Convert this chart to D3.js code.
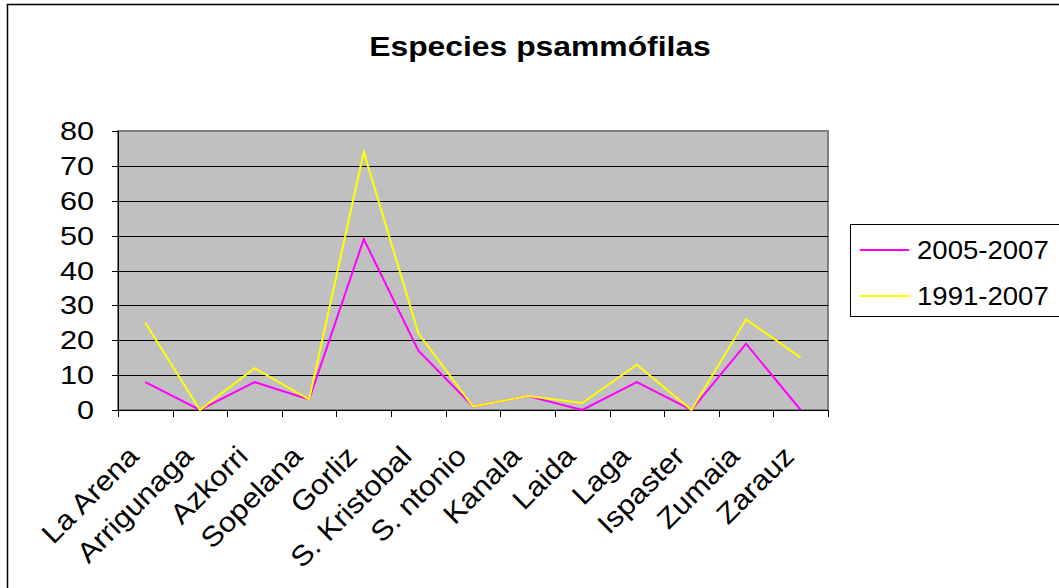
<!DOCTYPE html>
<html>
<head>
<meta charset="utf-8">
<script src="https://cdn.jsdelivr.net/npm/d3@7"></script>
<style>
  body { margin: 0; background: #fff; }
  text { font-family: "Liberation Sans", Arial, sans-serif; fill: #000; }
</style>
</head>
<body>
<div id="chart"></div>
<script>
const sites = ["La Arena", "Arrigunaga", "Azkorri", "Sopelana", "Gorliz", "S. Kristobal",
  "S. ntonio", "Kanala", "Laida", "Laga", "Ispaster", "Zumaia", "Zarauz"];
const recent = [8, 0, 8, 3, 49, 17, 1, 4, 0, 8, 0, 19, 0];       // 2005-2007
const allYears = [25, 0, 12, 3, 74, 22, 1, 4, 2, 13, 0, 26, 15];  // 1991-2007
const seriesNames = ["2005-2007", "1991-2007"];
const seriesColors = ["#FF00FF", "#FFFF00"];
const yTicks = [0, 10, 20, 30, 40, 50, 60, 70, 80];

const width = 1059, height = 588;
const plot = { left: 118, right: 828, top: 131, bottom: 410 };
const stretch = 1.18; // the original text is a bit wider than plain Arial
const fontSize = 26;

const svg = d3.select("#chart").append("svg")
    .attr("width", width)
    .attr("height", height);

// outer frame
svg.append("rect")
    .attr("x", 7.5).attr("y", 4.5)
    .attr("width", width).attr("height", height)
    .attr("fill", "none")
    .attr("stroke", "#000")
    .attr("stroke-width", 1.5);

const x = d3.scaleBand().domain(sites).range([plot.left, plot.right]);
const y = d3.scaleLinear().domain([0, 80]).range([plot.bottom, plot.top]);

function stretchedText(g, px, py, str, sx) {
  return g.append("text")
    .attr("transform", "translate(" + px + "," + py + ") scale(" + (sx || stretch) + ",1)")
    .style("font-size", fontSize + "px")
    .text(str);
}

// title
stretchedText(svg, 540, 56, "Especies psammófilas")
    .attr("text-anchor", "middle")
    .style("font-size", "27px")
    .style("font-weight", "bold");

// plot background
svg.append("rect")
    .attr("x", plot.left).attr("y", plot.top)
    .attr("width", plot.right - plot.left).attr("height", plot.bottom - plot.top)
    .attr("fill", "#C0C0C0")
    .attr("stroke", "#808080")
    .attr("stroke-width", 2);

// grid lines
svg.append("g")
  .selectAll("line")
  .data(yTicks.filter(t => t > 0 && t < 80))
  .enter().append("line")
    .attr("x1", plot.left).attr("x2", plot.right)
    .attr("y1", d => Math.round(y(d)) + 0.5).attr("y2", d => Math.round(y(d)) + 0.5)
    .attr("stroke", "#000");

// y axis
const yAxis = svg.append("g");
yAxis.append("line")
    .attr("x1", plot.left + 0.5).attr("x2", plot.left + 0.5)
    .attr("y1", plot.top).attr("y2", plot.bottom)
    .attr("stroke", "#000");
yAxis.selectAll("line.tick")
  .data(yTicks)
  .enter().append("line")
    .attr("class", "tick")
    .attr("x1", plot.left - 6).attr("x2", plot.left)
    .attr("y1", d => Math.round(y(d)) + 0.5).attr("y2", d => Math.round(y(d)) + 0.5)
    .attr("stroke", "#000");
yTicks.forEach(t => {
  stretchedText(yAxis, 94, y(t) + 9, String(t)).attr("text-anchor", "end");
});

// x axis
const xAxis = svg.append("g");
xAxis.append("line")
    .attr("x1", plot.left).attr("x2", plot.right)
    .attr("y1", plot.bottom + 0.5).attr("y2", plot.bottom + 0.5)
    .attr("stroke", "#000");
const edges = sites.map(s => x(s)).concat([plot.right]);
xAxis.selectAll("line.tick")
  .data(edges)
  .enter().append("line")
    .attr("class", "tick")
    .attr("x1", d => Math.round(d) + 0.5).attr("x2", d => Math.round(d) + 0.5)
    .attr("y1", plot.bottom).attr("y2", plot.bottom + 7)
    .attr("stroke", "#000");
xAxis.selectAll("text")
  .data(sites)
  .enter().append("text")
    .attr("text-anchor", "end")
    .style("font-size", "28px")
    .attr("transform", d => "translate(" + (x(d) + x.bandwidth() / 2 - 5) + "," + 458 +
      ") rotate(-45) scale(1.1,1)")
    .text(d => d);

// series lines
const line = d3.line()
    .x((d, i) => x(sites[i]) + x.bandwidth() / 2)
    .y(d => y(d));

[recent, allYears].forEach((vals, k) => {
  svg.append("path")
      .datum(vals)
      .attr("fill", "none")
      .attr("stroke", seriesColors[k])
      .attr("stroke-width", 2)
      .attr("d", line);
});

// legend
const legend = svg.append("g");
legend.append("rect")
    .attr("x", 850.5).attr("y", 224.5)
    .attr("width", 220).attr("height", 92)
    .attr("fill", "#fff")
    .attr("stroke", "#000");
seriesNames.forEach((name, k) => {
  const ly = 250 + k * 46;
  legend.append("line")
      .attr("x1", 860).attr("x2", 909)
      .attr("y1", ly).attr("y2", ly)
      .attr("stroke", seriesColors[k])
      .attr("stroke-width", 2);
  stretchedText(legend, 917, ly + 9, name, 1.06);
});
</script>
</body>
</html>
